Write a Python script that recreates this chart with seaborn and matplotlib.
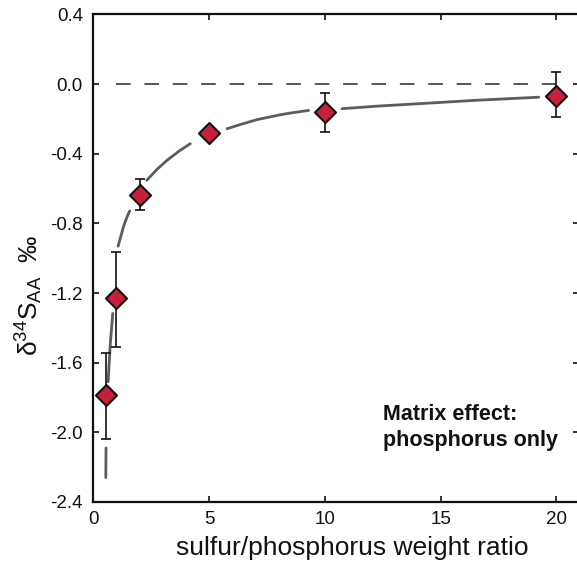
import numpy as np
import pandas as pd
import seaborn as sns
import matplotlib.pyplot as plt

# measured points: sulfur/phosphorus weight ratio vs delta34S (permil)
ratio = [0.55, 1, 2, 5, 10, 20]
d34s = [-1.786, -1.231, -0.635, -0.281, -0.159, -0.067]
err_low = [0.254, 0.278, 0.088, 0.03, 0.114, 0.12]
err_high = [0.239, 0.267, 0.088, 0.03, 0.106, 0.138]

# fitted curve (it is broken around the points)
curve_seg = [1, 1,
             2, 2, 2,
             3, 3, 3, 3,
             4, 4, 4, 4, 4,
             5, 5, 5, 5, 5, 5,
             6, 6, 6, 6, 6]
curve_x = [0.54, 0.55,
           0.64, 0.73, 0.84,
           1.07, 1.30, 1.45, 1.57,
           2.31, 2.74, 3.18, 3.70, 4.19,
           5.78, 6.40, 7.07, 8.00, 8.51, 9.30,
           10.74, 12.30, 13.98, 16.50, 19.24]
curve_y = [-2.26, -2.09,
           -1.71, -1.50, -1.317,
           -0.931, -0.820, -0.765, -0.728,
           -0.552, -0.491, -0.438, -0.385, -0.342,
           -0.256, -0.230, -0.204, -0.178, -0.166, -0.151,
           -0.141, -0.126, -0.113, -0.093, -0.075]

ref_level = 0.0
ref_span = [0.98, 20]

xticks = [0, 5, 10, 15, 20]
yticks = [0.4, 0.0, -0.4, -0.8, -1.2, -1.6, -2.0, -2.4]
ytick_labels = ["0.4", "0.0", "-0.4", "-0.8", "-1.2", "-1.6", "-2.0", "-2.4"]

sns.set_theme(style="ticks")
plt.rcParams['font.family'] = ['Liberation Sans', 'DejaVu Sans']
plt.rcParams['mathtext.fontset'] = 'custom'
plt.rcParams['mathtext.rm'] = 'Liberation Sans'
plt.rcParams['mathtext.it'] = 'Liberation Sans:italic'
plt.rcParams['axes.unicode_minus'] = False

fig = plt.figure(figsize=(5.77, 5.62), dpi=100)
ax = fig.add_axes([0.1617, 0.1068, 0.8426, 0.8674])

curve = pd.DataFrame({"seg": curve_seg, "x": curve_x, "y": curve_y})
sns.lineplot(data=curve, x="x", y="y", units="seg", estimator=None, sort=False,
             color="#5c5c5c", linewidth=2.0, ax=ax, zorder=2)

ax.hlines(ref_level, ref_span[0], ref_span[1], colors="#555555", linewidth=1.4,
          linestyles=(0, (7.5, 7.1)), zorder=1)

ax.errorbar(ratio, d34s, yerr=[err_low, err_high], fmt="none", ecolor="#111111",
            elinewidth=1.2, capsize=3.5, capthick=1.2, zorder=3)
sns.scatterplot(x=ratio, y=d34s, marker="D", s=115, color="#c8203a",
                edgecolor="#111111", linewidth=1.5, ax=ax, zorder=4)

ax.set_xlim(0, 21)
ax.set_ylim(-2.4, 0.4)
ax.set_xticks(xticks)
ax.set_yticks(yticks)
ax.set_yticklabels(ytick_labels)
ax.tick_params(direction="in", top=True, right=True, length=4, width=1.2,
               labelsize=13.5, colors="#111111")
ax.tick_params(axis="y", pad=7.5)
ax.tick_params(axis="x", pad=6.5)
for s in ax.spines.values():
    s.set_linewidth(1.6)
    s.set_color("#111111")

ax.set_xlabel("sulfur/phosphorus weight ratio", fontsize=19, color="#111111")
ax.xaxis.set_label_coords(0.532, -0.07)
ax.set_ylabel("δ$^{34}$S$_{\\mathrm{AA}}$  ‰", fontsize=19, color="#111111")
ax.yaxis.set_label_coords(-0.10, 0.425)

ax.text(12.5, -1.84, "Matrix effect:\nphosphorus only", fontsize=15.5,
        fontweight="bold", ha="left", va="top", color="#111111", linespacing=1.28)

fig.savefig("out.png", dpi=100)
